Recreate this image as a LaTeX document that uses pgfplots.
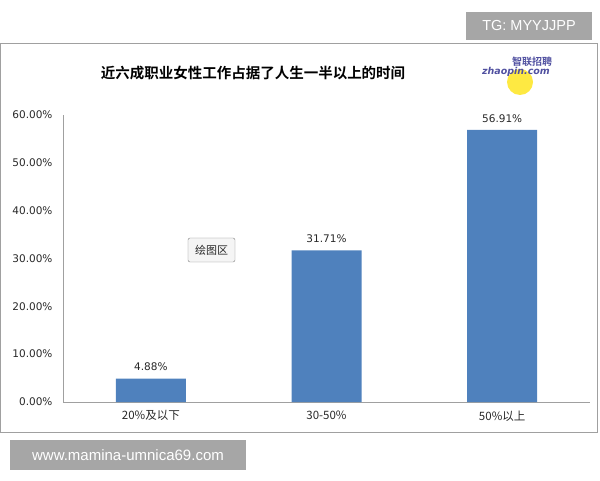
\documentclass[border=0pt]{standalone}
\usepackage{fontspec}
\setmainfont{Noto Sans CJK SC}
\newfontfamily\cjkbold{Noto Sans CJK SC Bold}
\newfontfamily\latin{DejaVu Sans}
\newfontfamily\arial{Liberation Sans}
\usepackage{pgfplots}
\pgfplotsset{compat=1.18}
\definecolor{barblue}{RGB}{79,129,189}
\definecolor{axisgray}{RGB}{160,160,160}
\definecolor{wmgray}{RGB}{166,166,166}
\definecolor{txt}{RGB}{40,40,40}
\definecolor{logoblue}{RGB}{80,80,160}

\begin{document}
\begin{tikzpicture}[x=1pt,y=1pt]
\useasboundingbox (0,0) rectangle (600,480);
% chart frame
\draw[axisgray, line width=1pt] (0.5,48) rectangle (597.5,436);

\begin{axis}[
  at={(63pt,78pt)}, anchor=south west,
  scale only axis,
  width=527pt, height=287pt,
  ybar, bar width=70pt,
  xmin=-0.5, xmax=2.5,
  ymin=0, ymax=60,
  xtick={0,1,2},
  xticklabels={20\%及以下,30-50\%,50\%以上},
  ytick={0,10,20,30,40,50,60},
  yticklabel={\pgfmathprintnumber[fixed,fixed zerofill,precision=2]{\tick}\%},
  /pgf/number format/assume math mode=true,
  axis x line=bottom, axis y line=left,
  axis line style={axisgray, line width=1pt, -},
  major tick length=0pt,
  tick label style={font=\fontsize{11.5}{13}\selectfont, text=txt},
  yticklabel style={font=\latin\fontsize{10.5}{12}\selectfont, xshift=-7pt},
  xticklabel style={yshift=-5pt},
  nodes near coords={\pgfmathprintnumber[fixed,fixed zerofill,precision=2]{\pgfplotspointmeta}\%},
  nodes near coords style={font=\latin\fontsize{10.5}{12}\selectfont, text=txt, yshift=4pt},
  clip=false,
]
\addplot[fill=barblue, draw=none] coordinates {(0,4.88) (1,31.71) (2,56.91)};
\end{axis}

% title
\node[font=\cjkbold\fontsize{14.5}{16}\selectfont, text=black] at (253,407) {近六成职业女性工作占据了人生一半以上的时间};

% logo
\fill[yellow!85!orange, opacity=0.75] (520,398) circle (13);
\node[font=\cjkbold\fontsize{10}{11}\selectfont, text=logoblue] at (532,418) {智联招聘};
\node[font=\latin\bfseries\itshape\fontsize{9.5}{11}\selectfont, text=logoblue] at (516,408) {zhaopin.com};

% plot area tooltip
\draw[gray, fill=gray!8, rounded corners=2pt] (188,218) rectangle (235,242);
\node[font=\fontsize{11}{12}\selectfont, text=txt] at (211.5,230) {绘图区};

% watermarks
\fill[wmgray] (466,440) rectangle (592,468);
\node[font=\arial\fontsize{14.5}{16}\selectfont, text=white] at (529,454) {TG: MYYJJPP};
\fill[wmgray] (10,10) rectangle (246,40);
\node[font=\arial\fontsize{15}{17}\selectfont, text=white] at (128,25) {www.mamina-umnica69.com};
\end{tikzpicture}
\end{document}
